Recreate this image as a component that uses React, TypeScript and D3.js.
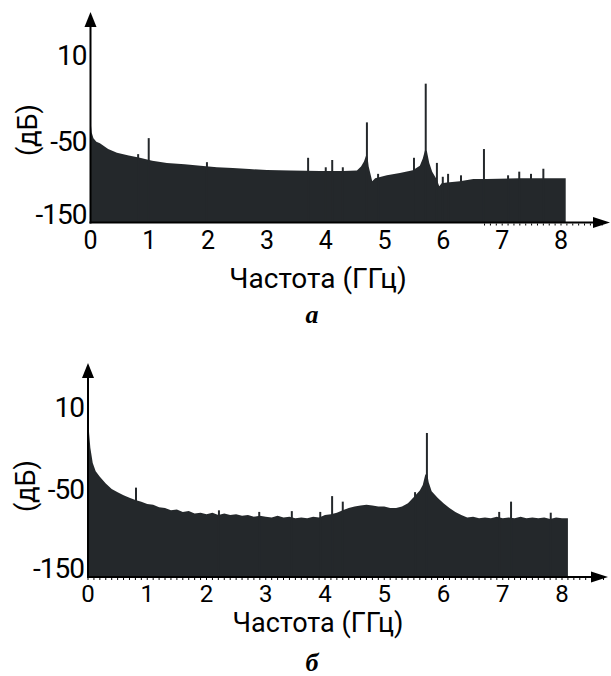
import React from "react";
import * as d3 from "d3";

const FREQ_TICKS = [0, 1, 2, 3, 4, 5, 6, 7, 8];
const DB_TICKS = [10, -50, -150];

// Panel a: spectrum envelope (GHz, dB)
const A_FREQ = [0, 0.02, 0.05, 0.1, 0.16, 0.3, 0.45, 0.65, 0.84, 1.05, 1.3, 1.6, 1.87, 2.15, 2.42, 2.7, 3.0, 3.4, 3.9, 4.3, 4.53, 4.6, 4.65, 4.69, 4.71, 4.73, 4.79, 4.84, 5.04, 5.26, 5.48, 5.6, 5.65, 5.69, 5.72, 5.76, 5.81, 5.89, 5.93, 5.97, 6.06, 6.28, 6.51, 6.74, 7.3, 8.08];
const A_DB = [-36, -44, -48, -51, -53, -61, -66, -70, -73, -77, -80, -82, -84, -86, -87, -88.5, -89.7, -90.5, -91, -91, -90.5, -85, -78, -69, -72, -85, -105, -101, -97, -94, -90, -84, -74, -62, -64, -80, -92, -103, -112, -108, -107, -105, -102, -102, -101, -101];
// Panel a: narrow spectral lines
const A_SPIKE_FREQ = [0.81, 0.99, 1.98, 3.7, 4.0, 4.11, 4.29, 4.7, 4.89, 5.5, 5.7, 5.89, 5.99, 6.08, 6.3, 6.69, 7.1, 7.29, 7.49, 7.7];
const A_SPIKE_DB = [-68, -48, -79, -73, -86, -76, -86, -37, -95, -73, -10, -80, -99, -95, -97, -61, -97, -92, -95, -88];

// Panel б: spectrum envelope (GHz, dB)
const B_FREQ = [0, 0.02, 0.04, 0.08, 0.13, 0.2, 0.3, 0.4, 0.5, 0.6, 0.7, 0.8, 0.9, 1.0, 1.1, 1.2, 1.3, 1.4, 1.5, 1.6, 1.7, 1.8, 1.9, 2.0, 2.1, 2.2, 2.3, 2.4, 2.5, 2.6, 2.7, 2.8, 2.9, 3.0, 3.1, 3.2, 3.3, 3.4, 3.5, 3.6, 3.7, 3.8, 3.9, 4.0, 4.1, 4.2, 4.3, 4.4, 4.5, 4.6, 4.7, 4.8, 4.9, 5.0, 5.1, 5.2, 5.3, 5.4, 5.5, 5.6, 5.65, 5.69, 5.72, 5.75, 5.8, 5.9, 6.0, 6.1, 6.2, 6.3, 6.4, 6.5, 6.6, 6.7, 6.8, 6.9, 7.0, 7.1, 7.2, 7.3, 7.4, 7.5, 7.6, 7.7, 7.8, 7.9, 8.0, 8.1];
const B_DB = [3, -10, -20, -31, -37, -41, -46, -50, -54, -58, -61, -64, -66, -69, -70, -73, -74, -77, -76, -79, -78, -81, -80, -82, -80, -83, -81, -83, -82, -84, -83, -85, -84, -85, -86, -84, -86, -85, -87, -86, -87, -85, -86, -83, -82, -80, -77, -74, -72, -71, -70, -71, -72, -72, -74, -74, -72, -68, -60, -52, -47, -40, -38, -45, -53, -61, -68, -74, -79, -83, -86, -85, -87, -86, -87, -85, -87, -86, -87, -85, -87, -86, -87, -86, -88, -86, -87, -87];
const B_SPIKE_FREQ = [0.81, 2.21, 2.89, 3.44, 3.92, 4.12, 4.3, 5.52, 5.72, 6.94, 7.14, 7.81];
const B_SPIKE_DB = [-49, -77, -79, -78, -79, -59, -66, -54, -9, -79, -66, -80];

const FILL = "#24282b";
const FONT = "Roboto, 'Liberation Sans', Arial, sans-serif";
const W = 400;

type PanelProps = {
  freq: number[];
  db: number[];
  spikeFreq: number[];
  spikeDb: number[];
  x0: number;
  x8: number;
  baseY: number;
  yRange: number[];
  arrowTop: number;
  arrowRight: number;
  tickY: number;
  tickSize: number;
  titleY: number;
  titleSize: number;
  letterY: number;
  letter: string;
  minorFrom: number;
  yLabelY: number;
};

function Panel(p: PanelProps) {
  const xs = d3.scaleLinear().domain([0, 8]).range([p.x0, p.x8]);
  const ys = d3.scaleLinear().domain([-150, -50, 10]).range(p.yRange);
  const idx = d3.range(p.freq.length);
  const area = d3
    .area<number>()
    .x((i) => xs(p.freq[i]))
    .y0(p.baseY)
    .y1((i) => ys(p.db[i]));
  const minor = d3.range(Math.round(p.minorFrom * 10), 88).map((k) => k / 10);
  const ax = p.x0;
  return (
    <g>
      <path d={area(idx) || ""} fill={FILL} />
      {p.spikeFreq.map((f, i) => (
        <line key={i} x1={xs(f)} x2={xs(f)} y1={p.baseY} y2={ys(p.spikeDb[i])} stroke={FILL} strokeWidth={2} />
      ))}
      {minor.map((f, i) => (
        <line key={"m" + i} x1={xs(f)} x2={xs(f)} y1={p.baseY + 1} y2={p.baseY + 3} stroke="#000" strokeWidth={1} />
      ))}
      {/* axes */}
      <line x1={ax} x2={ax} y1={p.baseY + 1} y2={p.arrowTop + 10} stroke="#000" strokeWidth={2} />
      <path d={`M${ax},${p.arrowTop} L${ax - 6},${p.arrowTop + 15} L${ax + 6},${p.arrowTop + 15} Z`} fill="#000" />
      <line x1={ax - 1} x2={p.arrowRight - 10} y1={p.baseY} y2={p.baseY} stroke="#000" strokeWidth={2} />
      <path d={`M${p.arrowRight},${p.baseY} L${p.arrowRight - 17},${p.baseY - 5.5} L${p.arrowRight - 17},${p.baseY + 5.5} Z`} fill="#000" />
      {FREQ_TICKS.map((t) => (
        <text key={"x" + t} x={xs(t)} y={p.tickY} textAnchor="middle" fontFamily={FONT} fontWeight={W} fontSize={p.tickSize}>
          {t}
        </text>
      ))}
      {DB_TICKS.map((t) => (
        <text key={"y" + t} x={ax - 4} y={ys(t)} dy="0.36em" textAnchor="end" fontFamily={FONT} fontWeight={W} fontSize={28} letterSpacing={-1}>
          {t}
        </text>
      ))}
      <text
        transform={`translate(${ax - 63},${p.yLabelY}) rotate(-90)`}
        textAnchor="middle"
        dy="0.36em"
        fontFamily={FONT}
        fontWeight={W}
        fontSize={27}
      >
        (дБ)
      </text>
      <text x={318} y={p.titleY} textAnchor="middle" fontFamily={FONT} fontWeight={W} fontSize={p.titleSize}>
        Частота (ГГц)
      </text>
      <text x={312} y={p.letterY} textAnchor="middle" fontFamily="'Liberation Serif', 'DejaVu Serif', serif" fontStyle="italic" fontWeight="bold" fontSize={26}>
        {p.letter}
      </text>
    </g>
  );
}

export default function App() {
  return (
    <svg width={611} height={676} style={{ position: "absolute", left: 0, top: 0, background: "#fff" }}>
      <Panel
        freq={A_FREQ}
        db={A_DB}
        spikeFreq={A_SPIKE_FREQ}
        spikeDb={A_SPIKE_DB}
        x0={90.5}
        x8={561}
        baseY={222.5}
        yRange={[214, 141, 55]}
        arrowTop={12}
        arrowRight={610}
        tickY={249}
        tickSize={25}
        titleY={288}
        titleSize={28}
        letterY={323}
        letter="а"
        minorFrom={6.7}
        yLabelY={130}
      />
      <Panel
        freq={B_FREQ}
        db={B_DB}
        spikeFreq={B_SPIKE_FREQ}
        spikeDb={B_SPIKE_DB}
        x0={88}
        x8={562}
        baseY={577}
        yRange={[568, 489, 407]}
        arrowTop={363}
        arrowRight={608}
        tickY={602}
        tickSize={24}
        titleY={632}
        titleSize={27}
        letterY={671}
        letter="б"
        minorFrom={0}
        yLabelY={486}
      />
    </svg>
  );
}
